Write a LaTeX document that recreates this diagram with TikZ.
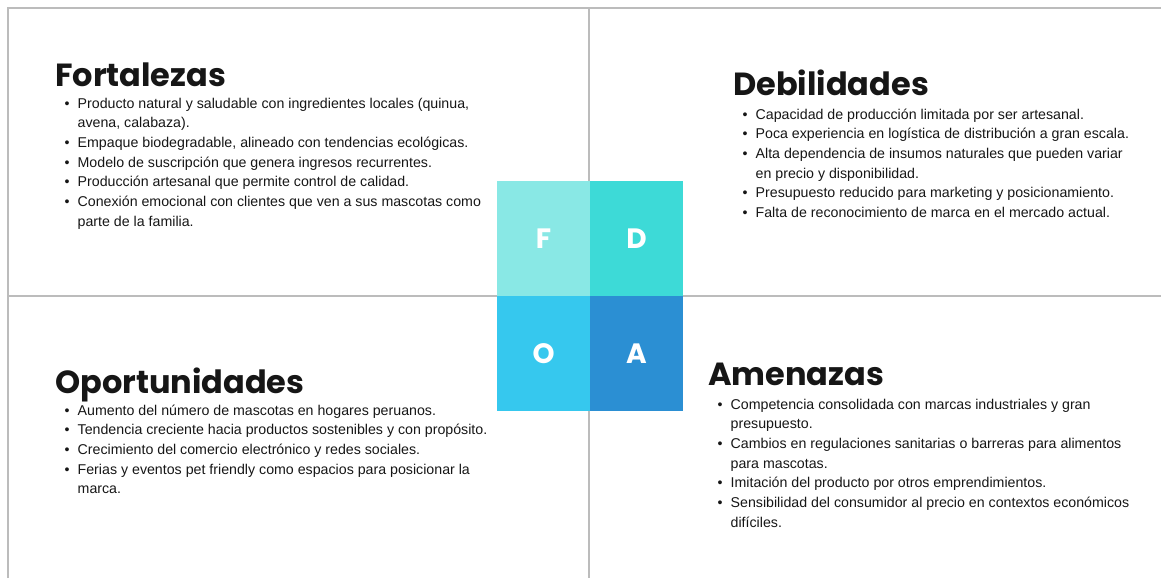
\documentclass[tikz,border=0pt]{standalone}
\usepackage{fontspec}
\usepackage{tikz}
\usetikzlibrary{positioning}
\setmainfont{Liberation Sans}
\newfontfamily\headfont{Poppins}
\definecolor{GridGray}{RGB}{188,188,188}
\definecolor{InkBlack}{RGB}{22,22,22}
\definecolor{TileF}{RGB}{137,232,229}
\definecolor{TileD}{RGB}{61,218,215}
\definecolor{TileO}{RGB}{54,200,238}
\definecolor{TileA}{RGB}{43,143,211}
\newcommand{\bul}{\textbullet}

\begin{document}
\begin{tikzpicture}[
  x=1pt,y=-1pt,
  grid/.style={draw=GridGray,line width=2.5pt},
  tile/.style={minimum width=93pt,minimum height=115pt,inner sep=0pt,outer sep=0pt,text=white,font=\headfont\bfseries\fontsize{28}{28}\selectfont},
  heading/.style={anchor=base west,inner sep=0pt,text=InkBlack,font=\headfont\bfseries\fontsize{32}{32}\selectfont},
  points/.style={anchor=base west,inner sep=0pt,text=InkBlack,font=\fontsize{14.2}{19.7}\selectfont}]
\path[use as bounding box] (0,0) rectangle (1161,578);
% frame and cross
\draw[grid] (8,578) -- (8,8) -- (1161,8);
\draw[grid] (589,8) -- (589,578);
\draw[grid] (8,296) -- (1161,296);
% the four letter tiles
\node[tile,fill=TileF,anchor=south east] (tileF) at (590,296) {F};
\node[tile,fill=TileD,right=0pt of tileF] (tileD) {D};
\node[tile,fill=TileO,below=0pt of tileF] (tileO) {O};
\node[tile,fill=TileA,right=0pt of tileO] (tileA) {A};
% Fortalezas
\node[heading] (headF) at (55,86) {Fortalezas};
\node[points] (listF) at (64.5,108) {\begin{tabular}[t]{@{}l@{\hspace{8pt}}l@{}}
  \bul & Producto natural y saludable con ingredientes locales (quinua,\\
       & avena, calabaza).\\
  \bul & Empaque biodegradable, alineado con tendencias ecológicas.\\
  \bul & Modelo de suscripción que genera ingresos recurrentes.\\
  \bul & Producción artesanal que permite control de calidad.\\
  \bul & Conexión emocional con clientes que ven a sus mascotas como\\
       & parte de la familia.
  \end{tabular}};
% Debilidades
\node[heading] (headD) at (733,95) {Debilidades};
\node[points] (listD) at (742.5,119) {\begin{tabular}[t]{@{}l@{\hspace{8pt}}l@{}}
  \bul & Capacidad de producción limitada por ser artesanal.\\
  \bul & Poca experiencia en logística de distribución a gran escala.\\
  \bul & Alta dependencia de insumos naturales que pueden variar\\
       & en precio y disponibilidad.\\
  \bul & Presupuesto reducido para marketing y posicionamiento.\\
  \bul & Falta de reconocimiento de marca en el mercado actual.
  \end{tabular}};
% Oportunidades
\node[heading] (headO) at (55,393) {Oportunidades};
\node[points] (listO) at (64.5,415) {\begin{tabular}[t]{@{}l@{\hspace{8pt}}l@{}}
  \bul & Aumento del número de mascotas en hogares peruanos.\\
  \bul & Tendencia creciente hacia productos sostenibles y con propósito.\\
  \bul & Crecimiento del comercio electrónico y redes sociales.\\
  \bul & Ferias y eventos pet friendly como espacios para posicionar la\\
       & marca.
  \end{tabular}};
% Amenazas
\node[heading] (headA) at (708,385) {Amenazas};
\node[points] (listA) at (717.5,409) {\begin{tabular}[t]{@{}l@{\hspace{8pt}}l@{}}
  \bul & Competencia consolidada con marcas industriales y gran\\
       & presupuesto.\\
  \bul & Cambios en regulaciones sanitarias o barreras para alimentos\\
       & para mascotas.\\
  \bul & Imitación del producto por otros emprendimientos.\\
  \bul & Sensibilidad del consumidor al precio en contextos económicos\\
       & difíciles.
  \end{tabular}};
\end{tikzpicture}
\end{document}
